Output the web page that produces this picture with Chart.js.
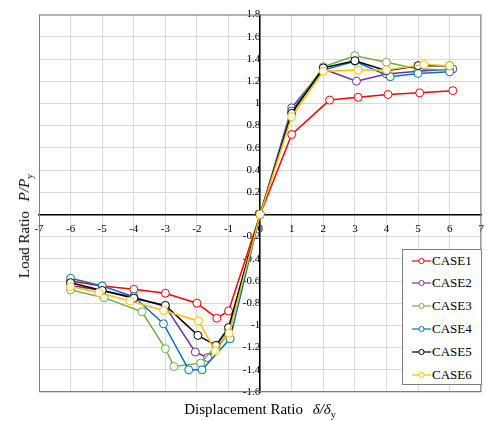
<!DOCTYPE html>
<html>
<head>
<meta charset="utf-8">
<script src="https://cdn.jsdelivr.net/npm/chart.js@4.4.0/dist/chart.umd.min.js"></script>
<style>
  body { margin: 0; background: #fff; }
  #wrap { position: relative; width: 492px; height: 421px; font-family: 'Liberation Serif', 'Times New Roman', serif; color: #000; }
  #chart { position: absolute; left: 0; top: 0; }
  .title { position: absolute; white-space: nowrap; font-size: 15px; line-height: 18px; }
  .title .sym { margin-left: 6px; font-style: italic; }
  .title sub { font-size: 10px; line-height: 0; font-style: normal; }
  #xTitle { left: 260px; top: 409px; transform: translate(-50%, -50%); }
  #yTitle { left: 24px; top: 226px; transform: translate(-50%, -50%) rotate(-90deg); }
  #legend { position: absolute; left: 402px; top: 249px; width: 80px; height: 136px; border: 1px solid #7f7f7f; background: #fff; box-sizing: border-box; }
  .item { position: absolute; left: 9px; height: 16px; line-height: 16px; font-size: 13px; white-space: nowrap; }
  .item svg { vertical-align: middle; margin-right: 1px; position: relative; top: -1px; }
</style>
</head>
<body>
<div id="wrap">
  <canvas id="chart" width="492" height="421"></canvas>
  <div class="title" id="yTitle">Load Ratio <span class="sym">P/P<sub>y</sub></span></div>
  <div class="title" id="xTitle">Displacement Ratio <span class="sym">&delta;/&delta;<sub>y</sub></span></div>
  <div id="legend"></div>
</div>
<script>
// Hysteresis envelope data
const caseNames = ['CASE1', 'CASE2', 'CASE3', 'CASE4', 'CASE5', 'CASE6'];

const case1X = [-6, -5, -4, -3, -2, -1.37, -1, 0, 1, 2.2, 3.1, 4.05, 5.05, 6.1];
const case1Y = [-0.60, -0.645, -0.675, -0.71, -0.80, -0.935, -0.87, 0, 0.72, 1.03, 1.055, 1.08, 1.095, 1.115];

const case2X = [-6, -5, -4, -3, -2.05, -1.66, -1, 0, 1, 2, 3.05, 4, 5, 6.1];
const case2Y = [-0.64, -0.685, -0.745, -0.83, -1.24, -1.29, -1.08, 0, 0.96, 1.31, 1.20, 1.265, 1.29, 1.31];

const case3X = [-6, -4.94, -3.74, -3, -2.73, -1.88, -1, 0, 1, 2, 3, 4, 5, 6];
const case3Y = [-0.68, -0.75, -0.877, -1.21, -1.37, -1.34, -1.05, 0, 0.93, 1.33, 1.43, 1.37, 1.31, 1.30];

const case4X = [-6, -5, -4, -3.06, -2.26, -1.84, -0.95, 0, 1, 2, 3, 4.12, 5, 6];
const case4Y = [-0.575, -0.645, -0.74, -0.985, -1.40, -1.40, -1.12, 0, 0.93, 1.30, 1.38, 1.24, 1.27, 1.285];

const case5X = [-6, -5, -4, -3, -1.97, -1.4, -1, 0, 1, 2, 3, 4, 5, 6];
const case5Y = [-0.615, -0.685, -0.755, -0.82, -1.09, -1.18, -1.02, 0, 0.91, 1.32, 1.385, 1.295, 1.34, 1.34];

const case6X = [-6, -5.1, -4.12, -3.06, -1.95, -1.42, -0.98, 0, 1, 2, 3.1, 4, 5.19, 6];
const case6Y = [-0.65, -0.705, -0.78, -0.865, -0.96, -1.23, -1.07, 0, 0.88, 1.29, 1.30, 1.30, 1.35, 1.34];

const xTicks = [-7, -6, -5, -4, -3, -2, -1, 0, 1, 2, 3, 4, 5, 6, 7];
const yTicks = [-1.6, -1.4, -1.2, -1, -0.8, -0.6, -0.4, -0.2, 0, 0.2, 0.4, 0.6, 0.8, 1, 1.2, 1.4, 1.6, 1.8];

const caseColors = ['#ff0000', '#7030a0', '#70ad47', '#0070c0', '#000000', '#ffc000'];
const allX = [case1X, case2X, case3X, case4X, case5X, case6X];
const allY = [case1Y, case2Y, case3Y, case4Y, case5Y, case6Y];

Chart.defaults.font.family = "'Liberation Serif', 'Times New Roman', serif";
Chart.defaults.color = '#000';

// grey frame round the plot area
const frame = {
    id: 'frame',
    beforeDatasetsDraw(chart) {
        const { ctx, chartArea: a } = chart;
        ctx.save();
        ctx.strokeStyle = '#7f7f7f';
        ctx.lineWidth = 1;
        ctx.strokeRect(a.left + 0.5, a.top + 0.5, a.right - a.left - 1, a.bottom - a.top - 1);
        ctx.restore();
    }
};

const datasets = caseNames.map((name, i) => ({
    label: name,
    data: allX[i].map((x, k) => ({ x: x, y: allY[i][k] })),
    showLine: true,
    borderColor: caseColors[i],
    borderWidth: 1.5,
    pointRadius: 4,
    pointBorderWidth: 1,
    pointBackgroundColor: '#fff',
    pointBorderColor: caseColors[i],
    order: caseNames.length - 1 - i
}));

new Chart(document.getElementById('chart'), {
    type: 'scatter',
    data: { datasets: datasets },
    options: {
        responsive: false,
        animation: false,
        layout: { padding: { left: 39, right: 5, top: 13, bottom: 29 } },
        plugins: { legend: { display: false }, tooltip: { enabled: false } },
        scales: {
            x: {
                type: 'linear',
                min: -7,
                max: 7,
                position: { y: 0 },
                afterBuildTicks: ax => { ax.ticks = xTicks.map(v => ({ value: v })); },
                ticks: { font: { size: 11 }, padding: 8, maxRotation: 0, autoSkip: false, callback: v => String(v) },
                grid: { color: '#d9d9d9', drawTicks: false },
                border: { color: '#000', width: 1.5 }
            },
            y: {
                type: 'linear',
                min: -1.6,
                max: 1.8,
                position: { x: 0 },
                afterBuildTicks: ax => { ax.ticks = yTicks.map(v => ({ value: v })); },
                ticks: { font: { size: 11 }, padding: 8, autoSkip: false, callback: v => String(v) },
                grid: { color: '#d9d9d9', drawTicks: false },
                border: { color: '#000', width: 1.5 }
            }
        }
    },
    plugins: [frame]
});

// legend box, bottom right inside the plot
const legend = document.getElementById('legend');
caseNames.forEach((name, i) => {
    const item = document.createElement('div');
    item.className = 'item';
    item.style.top = (2.5 + 22.8 * i) + 'px';
    item.innerHTML = `<svg width="19" height="8"><line x1="0" y1="4" x2="19" y2="4" stroke="${caseColors[i]}" stroke-width="1.2"/>` +
        `<circle cx="9.5" cy="4" r="2.6" fill="#fff" stroke="${caseColors[i]}" stroke-width="1"/></svg>${name}`;
    legend.appendChild(item);
});
</script>
</body>
</html>
